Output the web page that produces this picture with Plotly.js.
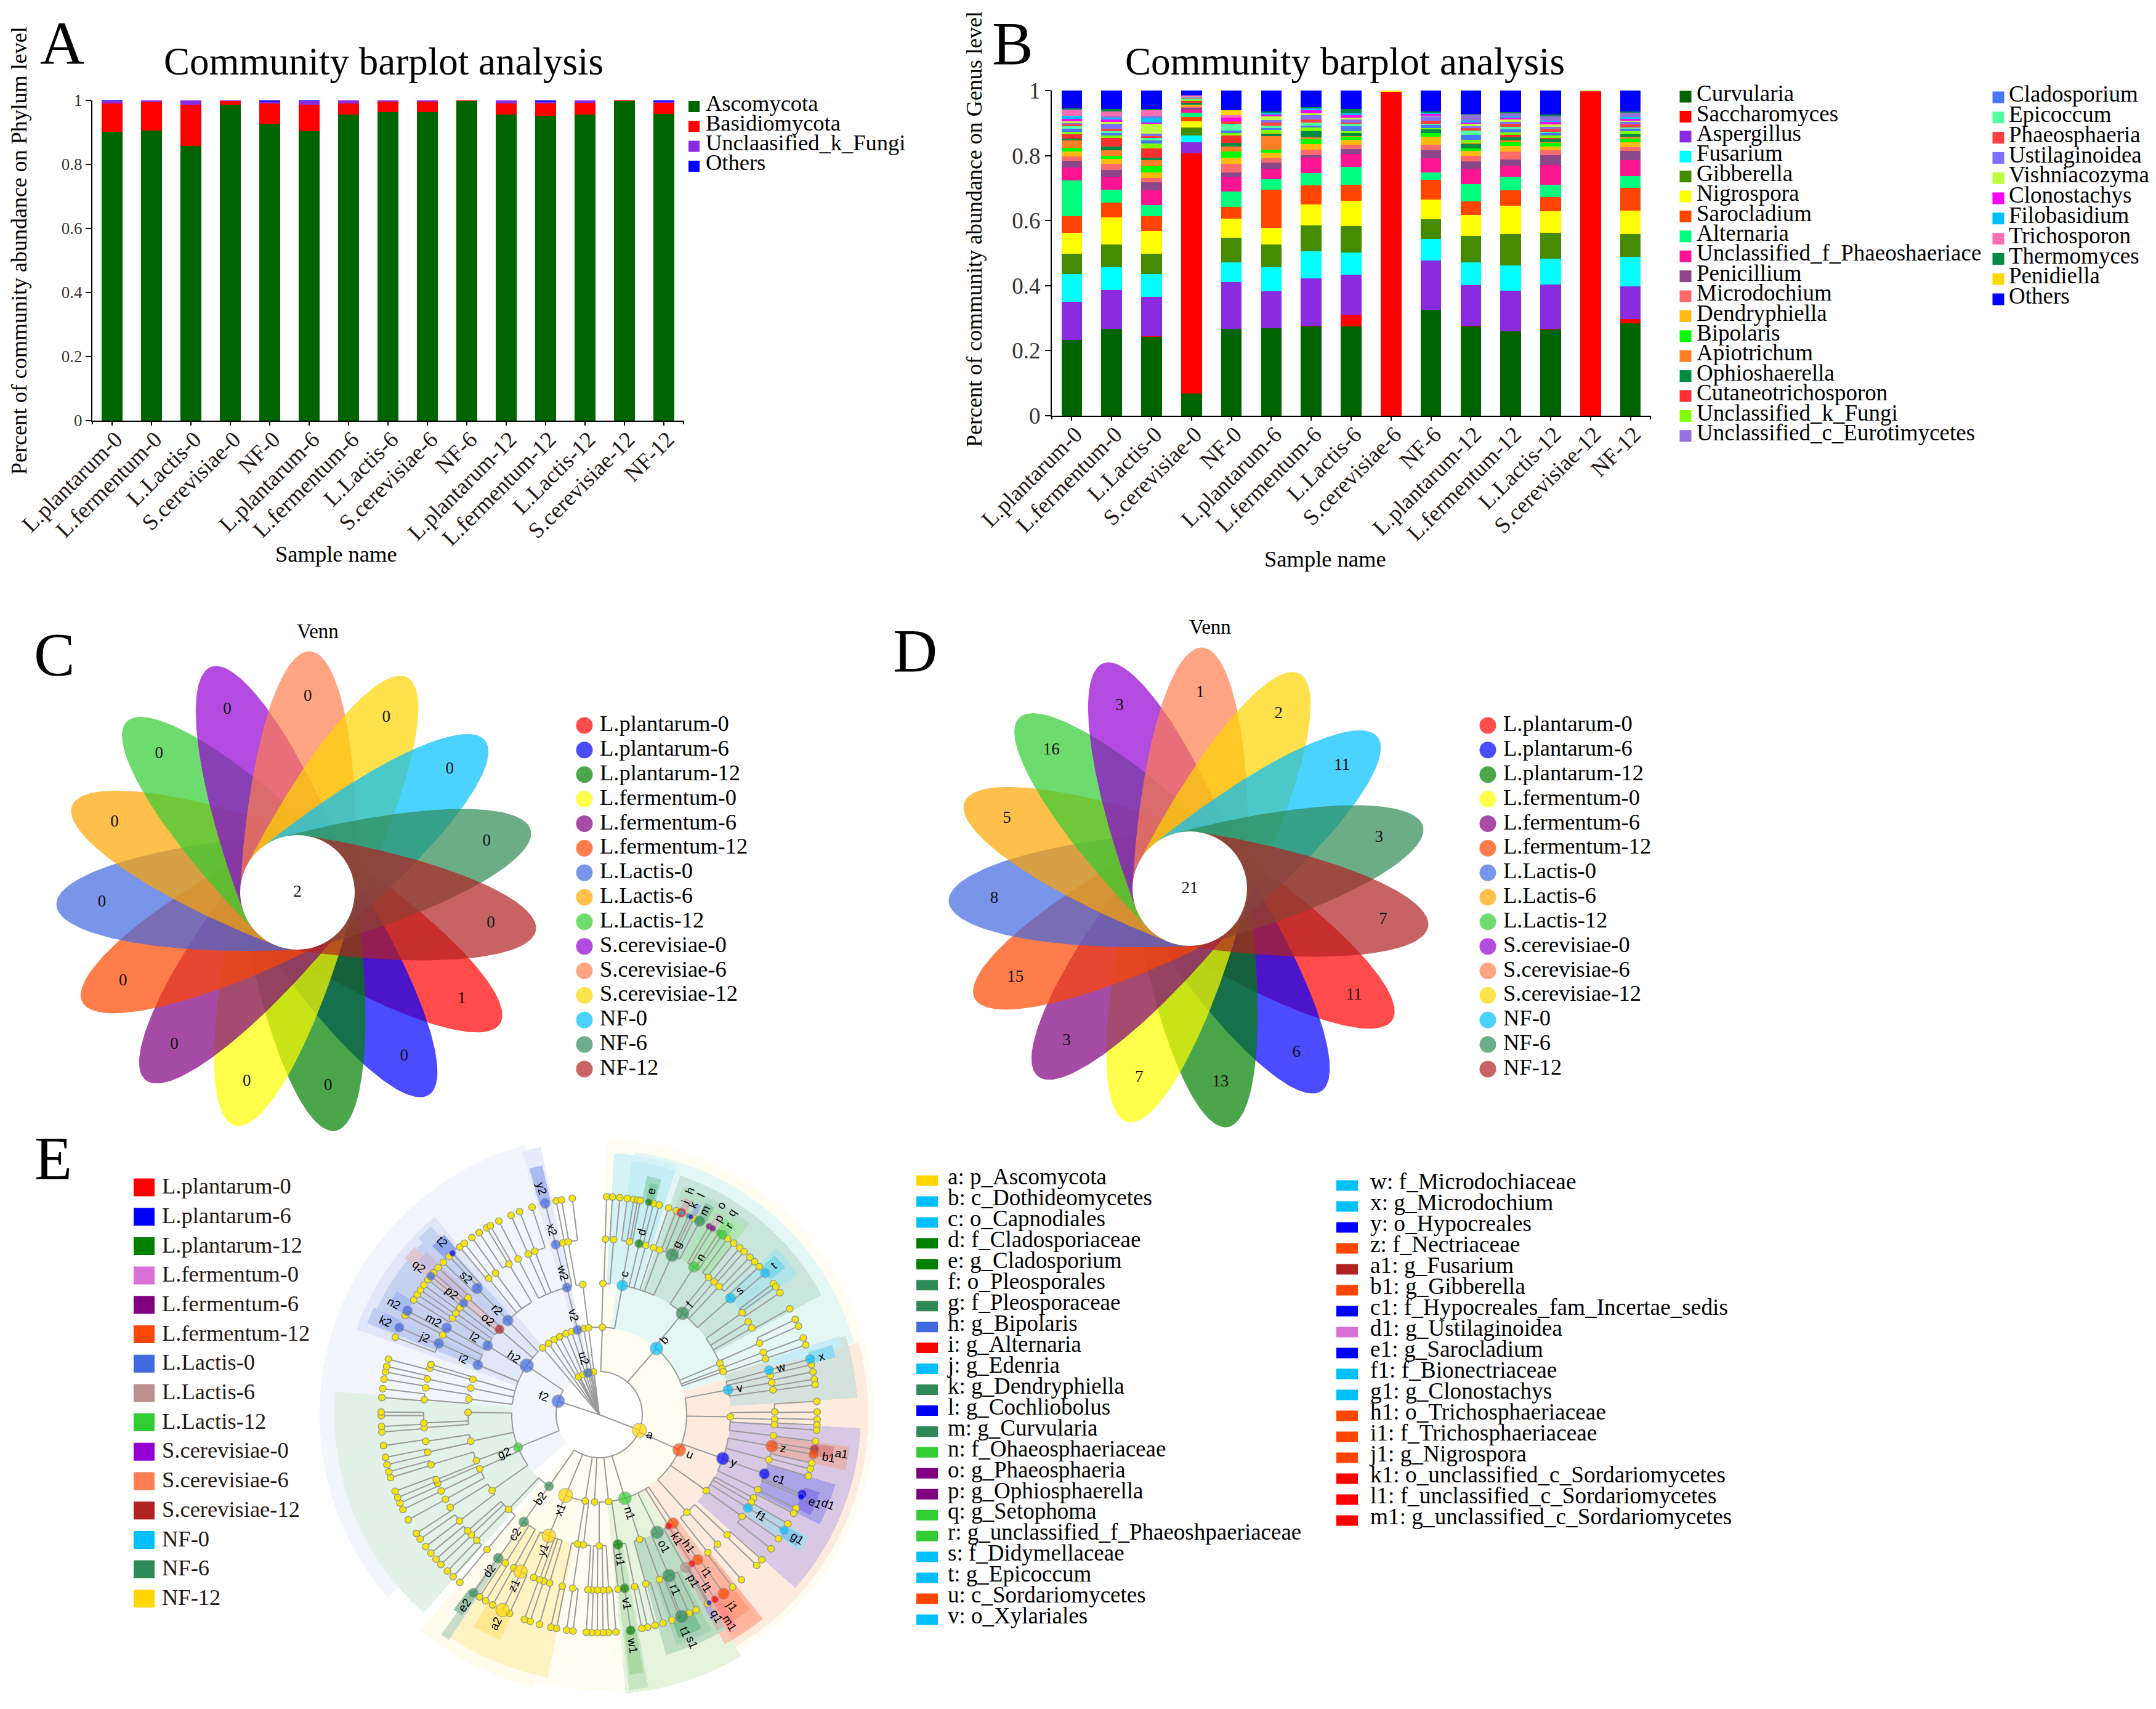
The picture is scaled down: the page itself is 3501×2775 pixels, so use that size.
<!DOCTYPE html>
<html><head><meta charset="utf-8">
<script src="https://cdn.plot.ly/plotly-3.0.1.min.js"></script>
<style>html,body{margin:0;padding:0;background:#fff}</style></head>
<body><div id="chart"></div>
<script>
// ---------- DATA ----------
const samples=['L.plantarum-0','L.fermentum-0','L.Lactis-0','S.cerevisiae-0','NF-0','L.plantarum-6','L.fermentum-6','L.Lactis-6','S.cerevisiae-6','NF-6','L.plantarum-12','L.fermentum-12','L.Lactis-12','S.cerevisiae-12','NF-12'];
// Panel A
const phylumNames=['Ascomycota','Basidiomycota','Unclaasified_k_Fungi','Others'];
const ascomycota=[.901,.906,.857,.987,.927,.903,.955,.964,.964,.999,.955,.952,.955,.999,.957];
const basidiomycota=[.089,.088,.130,.012,.063,.084,.035,.033,.033,.0005,.035,.038,.037,.001,.035];
const unclaasifiedFungi=[.008,.006,.013,.001,.006,.011,.010,.003,.003,.0005,.010,.007,.008,0,.005];
const phylumOthers=[.002,0,0,0,.004,.002,0,0,0,0,0,.003,0,0,.003];
// Panel B (stack order, bottom to top)
const curvularia=[.233,.267,.242,.068,.267,.269,.274,.274,0,.327,.274,.26,.265,0,.285];
const saccharomyces=[0,0,.002,.741,0,0,.002,.037,.996,0,.002,0,.002,.996,.012];
const aspergillus=[.117,.121,.120,.034,.144,.113,.145,.123,0,.151,.125,.125,.137,0,.102];
const fusarium=[.086,.070,.071,.021,.061,.075,.084,.068,0,.066,.070,.078,.079,0,.090];
const gibberella=[.062,.070,.062,.025,.076,.070,.079,.081,0,.060,.081,.096,.080,0,.070];
const nigrospora=[.065,.084,.070,.019,.058,.051,.064,.078,.002,.061,.064,.087,.066,0,.072];
const sarocladium=[.051,.045,.045,.013,.036,.117,.059,.049,0,.061,.042,.047,.044,0,.070];
const alternaria=[.110,.040,.034,.013,.049,.032,.038,.055,0,.023,.053,.042,.038,0,.036];
const uncPhaeo=[.040,.040,.045,.009,.045,.032,.047,.040,0,.044,.047,.034,.059,0,.049];
const penicillium=[.021,.021,.025,.006,.013,.019,.008,.015,0,.025,.023,.019,.032,0,.030];
const microdochium=[.013,.019,.013,.004,.027,.013,.017,.015,0,.017,.017,.025,.015,0,.011];
const dendryphiella=[.015,.015,.017,.006,.019,.017,.017,.015,0,.023,.015,.017,.011,0,.015];
const bipolaris=[.011,.009,.019,0,.019,.011,.015,.009,0,.013,.009,.011,.011,0,.011];
const apiotrichum=[.023,.017,.019,0,.015,.040,.006,.002,0,0,0,.006,.002,0,.006];
const ophioshaerella=[.006,.011,.008,.006,.011,.006,.019,.009,0,.011,.013,.009,.009,0,.008];
const cutaneotrichosporon=[.013,.027,.028,.004,.023,.002,0,0,0,0,.002,.008,.004,.002,0];
const uncFungi=[.008,.008,.015,.004,.008,.011,.011,.006,0,.004,.011,.008,.008,.002,.008];
const cladosporium=[.008,.008,.009,0,.006,.006,.006,.015,0,.009,.015,.009,.008,0,.008];
const epicoccum=[.008,.004,.009,.004,.021,.009,.009,.008,0,.004,.013,.009,.004,0,.004];
const phaeosphaeria=[.006,.009,.006,.002,.008,.008,.009,.004,0,.009,.008,.008,.009,0,.009];
const ustilaginoidea=[.004,.015,.006,.002,0,.008,.013,.008,0,.013,.006,.006,.006,0,.008];
const vishniacozyma=[.006,.006,.030,.002,0,.011,.006,.006,0,.002,.006,.008,.006,0,.004];
const clonostachys=[.006,.006,.004,0,.011,.006,.009,.008,0,.006,.004,.006,.008,0,.006];
const filobasidium=[.011,.006,.015,0,0,.006,.006,.006,0,.004,.006,.004,.004,0,.006];
const uncEuroti=[0,.004,.006,0,0,0,0,0,0,0,.019,.009,.013,0,.013];
const trichosporon=[.019,.015,.017,.004,.008,0,0,0,0,0,0,0,0,0,0];
const thermomyces=[.003,.008,.004,0,0,.004,.004,.013,0,.004,.002,.004,.006,0,.004];
const penidiella=[0,0,0,0,.015,0,0,0,.002,0,0,0,0,0,0];
const genusOthers=[.055,.057,.057,.015,.061,.064,.051,.057,0,.064,.072,.066,.074,0,.064];
const genusLegend1=['Curvularia','Saccharomyces','Aspergillus','Fusarium','Gibberella','Nigrospora','Sarocladium','Alternaria','Unclassified_f_Phaeoshaeriace','Penicillium','Microdochium','Dendryphiella','Bipolaris','Apiotrichum','Ophioshaerella','Cutaneotrichosporon','Unclassified_k_Fungi','Unclassified_c_Eurotimycetes'];
const genusLegend2=['Cladosporium','Epicoccum','Phaeosphaeria','Ustilaginoidea','Vishniacozyma','Clonostachys','Filobasidium','Trichosporon','Thermomyces','Penidiella','Others'];
// Panels C, D
const groups=['L.plantarum-0','L.plantarum-6','L.plantarum-12','L.fermentum-0','L.fermentum-6','L.fermentum-12','L.Lactis-0','L.Lactis-6','L.Lactis-12','S.cerevisiae-0','S.cerevisiae-6','S.cerevisiae-12','NF-0','NF-6','NF-12'];
const vennCountsC=[1,0,0,0,0,0,0,0,0,0,0,0,0,0,0];
const vennCountsD=[11,6,13,7,3,15,8,5,16,3,1,2,11,3,7];
const vennCoreC=2, vennCoreD=21;
// Panel E legend
const lefseGroups=groups;
const taxa=['a: p_Ascomycota','b: c_Dothideomycetes','c: o_Capnodiales','d: f_Cladosporiaceae','e: g_Cladosporium','f: o_Pleosporales','g: f_Pleosporaceae','h: g_Bipolaris','i: g_Alternaria','j: g_Edenria','k: g_Dendryphiella','l: g_Cochliobolus','m: g_Curvularia','n: f_Ohaeosphaeriaceae','o: g_Phaeosphaeria','p: g_Ophiosphaerella','q: g_Setophoma','r: g_unclassified_f_Phaeoshpaeriaceae','s: f_Didymellaceae','t: g_Epicoccum','u: c_Sordariomycetes','v: o_Xylariales'];
const taxa2=['w: f_Microdochiaceae','x: g_Microdochium','y: o_Hypocreales','z: f_Nectriaceae','a1: g_Fusarium','b1: g_Gibberella','c1: f_Hypocreales_fam_Incertae_sedis','d1: g_Ustilaginoidea','e1: g_Sarocladium','f1: f_Bionectriaceae','g1: g_Clonostachys','h1: o_Trichosphaeriaceae','i1: f_Trichosphaeriaceae','j1: g_Nigrospora','k1: o_unclassified_c_Sordariomycetes','l1: f_unclassified_c_Sordariomycetes','m1: g_unclassified_c_Sordariomycetes'];
// Panel E cladogram: marked clades
const cladeLabels=['a','b','c','d','e','f','g','h','i','k','l','m','o','p','n','q','r','s','t','v','w','x','u','y','z','a1','b1','c1','d1','e1','f1','g1','h1','k1','i1','l1','j1','m1','n1','o1','p1','q1','r1','s1','t1','u1','v1','w1','x1','y1','z1','a2','b2','c2','d2','e2','f2','g2','h2','i2','j2','k2','l2','m2','n2','o2','p2','q2','r2','s2','t2','u2','v2','w2','x2','y2'];
const cladeAngles=[-21.7,49.8,80.1,77.2,77.2,51.3,66,68.4,68.4,66.4,65.7,63.2,60.4,59.3,58,57.4,56.3,42.3,41.2,11.2,15,15.1,-24.3,-20,-10.6,-9.4,-10.8,-20.2,-21.9,-22.7,-32.8,-32.7,-56.4,-58.7,-56.5,-58.8,-55.9,-58.6,-73.3,-64.4,-61.2,-60.4,-67.1,-68.3,-68.9,-82,-81.9,-81.9,-112,-112,-116,-115.7,-124.3,-124.4,-124.4,-124.5,161.4,-157.5,145.2,157.2,155.5,155.9,147.6,149.7,150.9,138.7,139.8,139.8,133.4,133.3,131.5,104.7,104,103.9,104,104];
const cladeRings=[1,2,3,4,5,3,4,5,5,5,5,5,5,5,4,5,5,4,5,3,4,5,2,3,4,5,5,4,5,5,4,5,3,3,4,4,5,5,2,3,4,5,4,5,5,3,4,5,2,3,4,5,2,3,4,5,1,2,2,3,4,5,3,4,5,3,4,5,3,4,5,1,2,3,4,5];
const cladeColors=['gold','deepskyblue','deepskyblue','green','green','seagreen','seagreen','red','deepskyblue','seagreen','blue','seagreen','purple','purple','limegreen','limegreen','limegreen','deepskyblue','deepskyblue','deepskyblue','deepskyblue','deepskyblue','orangered','blue','orangered','firebrick','orangered','blue','blue','blue','deepskyblue','deepskyblue','orangered','red','orangered','red','orangered','red','limegreen','seagreen','rosybrown','blue','seagreen','seagreen','seagreen','green','green','green','gold','gold','gold','gold','seagreen','seagreen','seagreen','seagreen','royalblue','limegreen','royalblue','royalblue','royalblue','royalblue','royalblue','royalblue','royalblue','firebrick','royalblue','royalblue','royalblue','royalblue','blue','royalblue','royalblue','royalblue','royalblue','royalblue'];
const cladeSizes=[20,18,15,12,10,18,18,13,7,7,7,15,9,9,15,8,13,14,13,14,13,13,18,18,17,13,13,15,13,9,13,12,15,10,15,10,16,10,18,18,14,7,18,18,7,14,13,13,20,19,19,19,13,14,14,13,18,13,19,14,14,13,14,14,14,13,12,12,15,15,9,13,13,13,13,14];
// Panel E cladogram: unmarked clades per ring (degrees)
const ring1Tips=[117.9,111.4,102,97.3];
const ring2Tips=[88,129.5,124.7,120.3,116.3,111.8,108,100,96.8,-84,-93,-99];
const ring3Tips=[88.4,23.6,21,19.6,-1,-36.1,-48.8,-72.5,-90,-96.7,-99.3,-133,-144,-155,-159,-168,179,173,168,164,97];
const ring4Tips=[88,85.4,80.3,75,72.4,70.3,52.2,49.9,47.7,36.2,32.6,30.2,24.6,21.3,19,13.2,10.8,8.3,.9,-1.6,-3.4,-7.1,-15.3,-25.9,-29,-30.6,-36.2,-44,-48.3,-52.5,-70.4,-75,-78.7,-84,-87,-88.8,-90.6,-92.4,-93.6,-98.4,-101.8,-106,-108,-109.4,-111.4,-118.5,-121.6,-129,-133.5,-136,-137.8,-142,-147.4,-150.5,-153.6,-156.4,-157.7,-163,-167.3,-171,-175.6,-177.2,175,171,168,164.3,163,152.4,146,144,141.8,137.6,128.3,125.5,120.3,116.9,113.3,111,101.7,99.9];
const ring5Tips=[88.1,86.6,84.7,82.8,81.1,80.1,79.4,75.9,74.4,71.9,69.8,64.8,54.6,52.6,50.6,49.1,47,45.3,43.5,37.7,36.6,34.7,29.7,26.5,24.5,21.1,19.1,13.6,11.6,9.6,8.1,3.6,.7,-1.3,-2.8,-4.2,-7.2,-13.2,-14.8,-16.8,-26,-27.5,-30.7,-35.4,-38.7,-42.5,-44.5,-50,-53,-60.8,-64.2,-66.2,-71,-73.4,-75.5,-77.5,-79,-85.7,-87.6,-89,-90.5,-91.9,-93.3,-96.7,-98.4,-101,-102.5,-105.5,-108,-109.6,-113.7,-118.6,-120.7,-122.6,-129,-131.3,-133.4,-135.8,-137.7,-139.8,-142,-144.5,-146.3,-150.5,-153.6,-155.5,-157.1,-158.9,-162.8,-164.4,-166.4,-168.4,-171.6,-175.3,-176.8,-179.7,179.3,175.4,173,170.4,168.4,166.9,164.9,158.7,152.3,147.6,145.9,144.4,142.8,141,138.7,136.9,134.9,132.7,129,127.5,125,122.7,120.4,119.3,116.8,113.3,110.9,107.5,101.1,99.7,96.9];

// ---------- STYLE / LAYOUT CONSTANTS ----------
const W=3501,H=2775,SERIF='Liberation Serif';
const phylumColors=['#006400','#ff0000','#8a2be2','#0000ff'];
const stackSeries=[curvularia,saccharomyces,aspergillus,fusarium,gibberella,nigrospora,sarocladium,alternaria,uncPhaeo,penicillium,microdochium,dendryphiella,bipolaris,apiotrichum,ophioshaerella,cutaneotrichosporon,uncFungi,cladosporium,epicoccum,phaeosphaeria,ustilaginoidea,vishniacozyma,clonostachys,filobasidium,uncEuroti,trichosporon,thermomyces,penidiella,genusOthers];
const stackNames=['Curvularia','Saccharomyces','Aspergillus','Fusarium','Gibberella','Nigrospora','Sarocladium','Alternaria','Unclassified_f_Phaeoshaeriace','Penicillium','Microdochium','Dendryphiella','Bipolaris','Apiotrichum','Ophioshaerella','Cutaneotrichosporon','Unclassified_k_Fungi','Cladosporium','Epicoccum','Phaeosphaeria','Ustilaginoidea','Vishniacozyma','Clonostachys','Filobasidium','Unclassified_c_Eurotimycetes','Trichosporon','Thermomyces','Penidiella','Others'];
const genusColor={Curvularia:'#006400',Saccharomyces:'#ff0000',Aspergillus:'#8a2be2',Fusarium:'#00ffff',Gibberella:'#458b00',Nigrospora:'#ffff00',Sarocladium:'#ff4500',Alternaria:'#00ff7f',Unclassified_f_Phaeoshaeriace:'#ff1493',Penicillium:'#8b4789',Microdochium:'#ff6a6a',Dendryphiella:'#ffb90f',Bipolaris:'#00ff00',Apiotrichum:'#ff7f24',Ophioshaerella:'#008b45',Cutaneotrichosporon:'#ff3030',Unclassified_k_Fungi:'#7fff00',Unclassified_c_Eurotimycetes:'#9370db',Cladosporium:'#4876ff',Epicoccum:'#54ff9f',Phaeosphaeria:'#ff4040',Ustilaginoidea:'#836fff',Vishniacozyma:'#c0ff3e',Clonostachys:'#ff00ff',Filobasidium:'#00bfff',Trichosporon:'#ff6eb4',Thermomyces:'#008b45',Penidiella:'#ffd700',Others:'#0000ff'};
const vennColors=['#ff0000','#0000ff','#008000','#ffff00','#800080','#ff4500','#4169e1','#ffa500','#32cd32','#9400d3','#ff7f50','#ffd700','#00bfff','#2e8b57','#b22222'];
const lefseColors=['#ff0000','#0000ff','#008000','#da70d6','#800080','#ff4500','#4169e1','#bc8f8f','#32cd32','#9400d3','#ff7f50','#b22222','#00bfff','#2e8b57','#ffd700'];
const taxaColors=['gold','deepskyblue','deepskyblue','green','green','seagreen','seagreen','royalblue','red','deepskyblue','seagreen','blue','seagreen','limegreen','purple','purple','limegreen','limegreen','deepskyblue','deepskyblue','orangered','deepskyblue'];
const taxa2Colors=['deepskyblue','deepskyblue','blue','orangered','firebrick','orangered','blue','orchid','blue','deepskyblue','deepskyblue','orangered','orangered','orangered','red','red','red'];
// [start deg, end deg, inner radius, outer radius, colour]
const sectors=[
[220.3,105,70,454,'#f3f5fd'],[88,-129.5,70,447,'#fffcf2'],
[83,16.5,142,430,'#e5f7f4'],[15,-61,142,437,'#fdebdd'],[-60,-85,142,455,'#e6f4dd'],
[-103,-129,142,455,'#fffbed'],[-100.5,-124,213,435,'#fff3c4'],[-131,-184.5,142,430,'#e3f2e9'],
[160,129,142,418,'#e1e7f9'],[155,133,213,400,'#c6d1f2'],[158,154,213,405,'#bfccf2'],[157.5,154,354,385,'#a9bcf0'],[152,148,354,385,'#a9bcf0'],
[140.5,137,213,405,'#ddc6d2'],[139,136,285,385,'#c9bede'],[135,131,213,410,'#c5d3f3'],[134,130,354,385,'#8fa7ef'],
[106,102,70,445,'#e6ebfb'],[105.5,102.5,354,415,'#aabcf2'],
[87,73,213,425,'#d5f3f4'],[83,73,285,415,'#c4eef3'],[79,75.5,354,395,'#9dd8c5'],[78,76,354,385,'#7ccba5'],
[72,29,213,410,'#c8e6dc'],[70.5,52.5,285,395,'#b8dfcc'],[62,52.5,285,385,'#b2e5b5'],[69,67,354,378,'#cdb6b8'],[66,64.5,354,378,'#9fb7d8'],[64,61.5,354,385,'#8fc8a9'],[60.5,58.5,354,380,'#c1c6c4'],[58,55,354,378,'#8ddf8d'],
[44,36,285,395,'#b2e3e6'],[43,39,354,385,'#82d8e8'],
[18,4,213,420,'#d5e1dd'],[18.5,16,285,410,'#c7ecf5'],[17,14,354,395,'#8fdcf0'],
[-3.5,-42,213,425,'#d8c8e3'],[-7.5,-13,285,410,'#e4b3b2'],[-8,-11,354,385,'#d98a8a'],[-17,-27,285,400,'#aca3e6'],[-20,-26,354,380,'#8d7de8'],[-31,-35,285,395,'#b5d6e8'],[-31.5,-34.5,354,385,'#86c6ee'],
[-54,-62,213,425,'#f7c7b0'],[-52,-60,285,425,'#ffb59e'],[-53,-58,354,400,'#ff9f80'],[-57.5,-60,213,415,'#ffb0a8'],[-57.5,-59.5,354,405,'#ff8f8f'],
[-60,-75,213,405,'#bcdcc3'],[-63,-72,285,395,'#a8d4b5'],[-65,-71,354,385,'#7fbf97'],[-60,-62,285,400,'#c9bdb0'],[-60.5,-62,354,380,'#b0a8e0'],
[-80,-84,213,450,'#c8e6c0'],[-80.5,-83.5,354,425,'#a9d8a3'],
[-113,-120,354,400,'#ffe88f'],[-123,-125,285,440,'#c8dcc9'],[-123.5,-126,354,395,'#98c3a6']];
const ringRadius=[0,70,142,213,285,354];
const CX=973,CY=2297,RMAX=460;
const cal=t=>Math.atan2(Math.sin(t*Math.PI/180)*.974,Math.cos(t*Math.PI/180))*180/Math.PI;

const traces=[];
// ---------- PANEL A, B ----------
[ascomycota,basidiomycota,unclaasifiedFungi,phylumOthers].forEach((v,i)=>traces.push({type:'bar',x:samples,y:v,name:phylumNames[i],marker:{color:phylumColors[i],line:{width:0}},xaxis:'x',yaxis:'y',showlegend:false}));
stackSeries.forEach((v,i)=>traces.push({type:'bar',x:samples,y:v,name:stackNames[i],marker:{color:genusColor[stackNames[i]],line:{width:0}},xaxis:'x2',yaxis:'y2',showlegend:false}));

// ---------- helpers on the page-sized axes ----------
function textColumn(x,y,step,labels,size,color){
  traces.push({type:'scatter',mode:'text',xaxis:'x3',yaxis:'y3',x:labels.map(()=>x),y:labels.map((_,i)=>y+i*step),text:labels,textposition:'middle right',cliponaxis:false,textfont:{family:SERIF,size:size,color:color||'#000'},showlegend:false,hoverinfo:'skip'});
}
function swatchColumn(x,y,step,colors,size,symbol,opacity){
  traces.push({type:'scatter',mode:'markers',xaxis:'x3',yaxis:'y3',x:colors.map(()=>x),y:colors.map((_,i)=>y+i*step),marker:{symbol:symbol,size:size,color:colors,opacity:opacity||1,line:{width:0}},cliponaxis:false,showlegend:false,hoverinfo:'skip'});
}
const annotations=[], shapes=[];
function note(text,x,y,size,angle,extra){
  annotations.push(Object.assign({text:text,xref:'x3',yref:'y3',x:x,y:y,showarrow:false,font:{family:SERIF,size:size,color:'#000'},textangle:angle||0,xanchor:'center',yanchor:'middle'},extra||{}));
}
// legend A, B
swatchColumn(1127,173,32.3,phylumColors,18,'square');
textColumn(1146,171,32,phylumNames,36.5);
swatchColumn(2737,157,32.4,genusLegend1.map(n=>genusColor[n]),19,'square');
textColumn(2755,155,32.4,genusLegend1,37);
swatchColumn(3245,158,32.8,genusLegend2.map(n=>genusColor[n]),19,'square');
textColumn(3262,156,32.8,genusLegend2,37);

// ---------- PANELS C, D ----------
function venn(cx,cy,counts,core,legendMarkerX,legendTextX){
  const a=392,b=93;
  const order=[10,11,12,13,14,0,1,2,3,4,5,6,7,8,9]; // clockwise from the top petal
  const rot={};order.forEach((g,i)=>rot[g]=-24*i);
  groups.forEach((g,i)=>{
    const tilt=(87+rot[i])*Math.PI/180, xs=[], ys=[];
    for(let d=-90;d<=90;d+=1.5){
      const t=d*Math.PI/180, u=a*Math.cos(t), v=b*Math.sin(t);
      xs.push(cx+u*Math.cos(tilt)-v*Math.sin(tilt));
      ys.push(cy-(u*Math.sin(tilt)+v*Math.cos(tilt)));
    }
    traces.push({type:'scatter',mode:'lines',x:xs,y:ys,xaxis:'x3',yaxis:'y3',fill:'toself',fillcolor:vennColors[i],opacity:.7,line:{width:0},name:g,showlegend:false,hoverinfo:'skip'});
  });
  const hx=[],hy=[];
  for(let d=0;d<=360;d+=3){hx.push(cx+93*Math.cos(d*Math.PI/180));hy.push(cy+93*Math.sin(d*Math.PI/180));}
  traces.push({type:'scatter',mode:'lines',x:hx,y:hy,xaxis:'x3',yaxis:'y3',fill:'toself',fillcolor:'#fff',line:{width:0},showlegend:false,hoverinfo:'skip'});
  const lx=[],ly=[],lt=[];
  groups.forEach((g,i)=>{const an=(87+rot[i])*Math.PI/180;lx.push(cx+318*Math.cos(an));ly.push(cy-318*Math.sin(an));lt.push(String(counts[i]));});
  lx.push(cx);ly.push(cy);lt.push(String(core));
  traces.push({type:'scatter',mode:'text',x:lx,y:ly,text:lt,xaxis:'x3',yaxis:'y3',textfont:{family:SERIF,size:27,color:'#111'},textposition:'middle center',showlegend:false,hoverinfo:'skip'});
  swatchColumn(legendMarkerX,1178,39.85,vennColors,27,'circle',.7);
  textColumn(legendTextX,1178,39.85,groups,36.5);
}
venn(483,1449,vennCountsC,vennCoreC,949,974);
venn(1932,1443,vennCountsD,vennCoreD,2416,2441);

// ---------- PANEL E legends ----------
lefseGroups.forEach((g,i)=>{const y=1928+i*47.7;shapes.push({type:'rect',xref:'x3',yref:'y3',x0:217,x1:251,y0:y-14.5,y1:y+14.5,fillcolor:lefseColors[i],line:{width:0}});});
textColumn(263,1929,47.7,lefseGroups,36.5,'#231815');
taxa.forEach((t,i)=>{const y=1917+i*33.95;shapes.push({type:'rect',xref:'x3',yref:'y3',x0:1488,x1:1523,y0:y-8.5,y1:y+8.5,fillcolor:taxaColors[i],line:{width:0}});});
textColumn(1539,1914,33.95,taxa,37);
taxa2.forEach((t,i)=>{const y=1925+i*34;shapes.push({type:'rect',xref:'x3',yref:'y3',x0:2170,x1:2205,y0:y-8.5,y1:y+8.5,fillcolor:taxa2Colors[i],line:{width:0}});});
textColumn(2225,1922,34,taxa2,37.3);

// ---------- PANEL E cladogram ----------
const sectorColors=sectors.map(s=>s[4]);
traces.push({type:'barpolar',subplot:'polar',theta:sectors.map(s=>cal((s[0]+s[1])/2)),width:sectors.map(s=>s[0]-s[1]),base:sectors.map(s=>s[2]),r:sectors.map(s=>s[3]-s[2]),marker:{color:sectorColors,line:{width:0}},showlegend:false,hoverinfo:'skip'});
const nodes=[];
cladeLabels.forEach((l,i)=>nodes.push({th:cal(cladeAngles[i]),raw:cladeAngles[i],ring:cladeRings[i],label:l,leaf:l==='q1'||l==='t2'}));
[ring1Tips,ring2Tips,ring3Tips,ring4Tips,ring5Tips].forEach((arr,k)=>arr.forEach(t=>nodes.push({th:cal(t),raw:t,ring:k+1,leaf:k<2})));
const adiff=(a,b)=>{let d=a-b;while(d>180)d-=360;while(d<-180)d+=360;return d;};
const lineT=[],lineR=[];
const spans=new Map();
nodes.forEach(n=>{
  let parent=null;
  if(n.ring===2){
    const inCluster=n.raw>90&&n.raw<131;
    if(!inCluster){
      const lab=(n.raw>-132&&n.raw<89)?'a':'f2';
      parent=nodes.find(p=>p.label===lab);
    }else if(n.label==='v2'){parent=nodes.find(p=>p.label==='u2');}
  }else if(n.ring>2){
    let best=1e9;
    nodes.forEach(p=>{if(p.ring===n.ring-1&&!p.leaf){const d=Math.abs(adiff(n.th,p.th));if(d<best){best=d;parent=p;}}});
  }
  const r0=parent?ringRadius[parent.ring]:0;
  lineT.push(n.th,n.th,null);lineR.push(r0,ringRadius[n.ring],null);
  if(parent){
    const d=adiff(n.th,parent.th);
    const s=spans.get(parent)||[0,0];
    s[0]=Math.min(s[0],d);s[1]=Math.max(s[1],d);spans.set(parent,s);
  }
});
spans.forEach((s,p)=>{
  for(let d=s[0];d<s[1];d+=1){lineT.push(p.th+d);lineR.push(ringRadius[p.ring]);}
  lineT.push(p.th+s[1],null);lineR.push(ringRadius[p.ring],null);
});
traces.push({type:'scatterpolar',subplot:'polar',mode:'lines',theta:lineT,r:lineR,line:{color:'#9a9a9a',width:2},connectgaps:false,showlegend:false,hoverinfo:'skip'});
const yellowNodes=nodes.filter(n=>!n.label);
traces.push({type:'scatterpolar',subplot:'polar',mode:'markers',theta:yellowNodes.map(n=>n.th),r:yellowNodes.map(n=>ringRadius[n.ring]),marker:{color:'#f2e40c',size:11,line:{color:'#8f8f8f',width:1.2}},showlegend:false,hoverinfo:'skip'});
traces.push({type:'scatterpolar',subplot:'polar',mode:'markers',theta:cladeLabels.map((_,i)=>cal(cladeAngles[i])),r:cladeRings.map(k=>ringRadius[k]),marker:{color:cladeColors,size:cladeSizes.map(s=>s*1.15),line:{color:'#8f8f8f',width:1.2}},showlegend:false,hoverinfo:'skip'});
// radial labels: neighbours that would collide step further out
const raised=new Set();
const byAngle=cladeLabels.map((l,i)=>({l,i,t:cal(cladeAngles[i]),k:cladeRings[i]})).sort((p,q)=>p.t-q.t);
byAngle.forEach((o,j)=>{
  const prev=byAngle.slice(0,j).reverse().find(p=>p.k===o.k);
  if(prev&&o.t-prev.t<3.2&&!raised.has(prev.l))raised.add(o.l);
});
cladeLabels.forEach((l,i)=>{
  const t=cal(cladeAngles[i]), rr=ringRadius[cladeRings[i]]+(l.length>1?25:19)+(raised.has(l)?20:0);
  const px=CX+rr*Math.cos(t*Math.PI/180), py=CY-rr*Math.sin(t*Math.PI/180);
  const ang=(Math.abs(t)<=90)?-t:180-t;
  annotations.push({text:l,xref:'x3',yref:'y3',x:px,y:py,showarrow:false,font:{family:'Liberation Sans',size:19,color:'#000'},textangle:ang,xanchor:'center',yanchor:'middle'});
});

// ---------- TEXT ----------
note('A',101,70,100);note('B',1644,70,100);note('C',88,1062,100);note('D',1486,1056,100);note('E',86,1880,100);
note('Community barplot analysis',623,100,63);
note('Community barplot analysis',2184,100,63);
note('Sample name',546,899,36.5);
note('Sample name',2152,907,36.5);
note('Percent of community abundance on Phylum level',31,407,36,-90);
note('Percent of community abundance on Genus level',1582,372,36,-90);
note('Venn',516,1025,33);
note('Venn',1965,1018,33);
// small closing ticks at both ends of the x axes
['x','x2'].forEach(a=>{const yr=a==='x'?'y':'y2';[0,1].forEach(p=>shapes.push({type:'line',xref:a+' domain',yref:yr+' domain',x0:p,x1:p,y0:0,y1:-.0115,line:{color:'#000',width:2}}));});

const xBase={type:'category',categoryorder:'array',categoryarray:samples,showline:true,linecolor:'#000',linewidth:2,ticks:'outside',ticklen:6,tickwidth:2,tickcolor:'#000',tickangle:-45,tickfont:{family:SERIF,size:37,color:'#231815'},ticklabelstandoff:-14,ticklabelshift:6,showgrid:false,zeroline:false,range:[-.5,14.5],automargin:false};
const yBase={range:[0,1],dtick:.2,tick0:0,showline:true,linecolor:'#000',linewidth:2,ticks:'outside',ticklen:9,tickwidth:2,tickcolor:'#000',showgrid:false,zeroline:false,automargin:false};
const hidden={visible:false,showgrid:false,zeroline:false,fixedrange:true};
const layout={width:W,height:H,autosize:false,margin:{l:0,r:0,t:0,b:0,pad:0},paper_bgcolor:'#fff',plot_bgcolor:'rgba(0,0,0,0)',showlegend:false,
  barmode:'stack',barnorm:'fraction',bargap:.48,
  xaxis:Object.assign({},xBase,{domain:[150/W,1110/W],anchor:'y'}),
  yaxis:Object.assign({},yBase,{domain:[(H-683)/H,(H-163)/H],anchor:'x',tickfont:{family:SERIF,size:27,color:'#333'}}),
  xaxis2:Object.assign({},xBase,{domain:[1708/W,2680/W],anchor:'y2'}),
  yaxis2:Object.assign({},yBase,{domain:[(H-675)/H,(H-147)/H],anchor:'x2',tickfont:{family:SERIF,size:37,color:'#333'}}),
  xaxis3:Object.assign({},hidden,{domain:[0,1],range:[0,W],anchor:'y3'}),
  yaxis3:Object.assign({},hidden,{domain:[0,1],range:[H,0],anchor:'x3'}),
  polar:{domain:{x:[(CX-RMAX)/W,(CX+RMAX)/W],y:[(H-CY-RMAX)/H,(H-CY+RMAX)/H]},bgcolor:'rgba(0,0,0,0)',barmode:'overlay',
    radialaxis:{visible:false,range:[0,RMAX]},angularaxis:{visible:false,rotation:0,direction:'counterclockwise',thetaunit:'degrees'}},
  annotations:annotations,shapes:shapes};
Plotly.newPlot('chart',traces,layout,{displayModeBar:false,staticPlot:true});
</script></body></html>
